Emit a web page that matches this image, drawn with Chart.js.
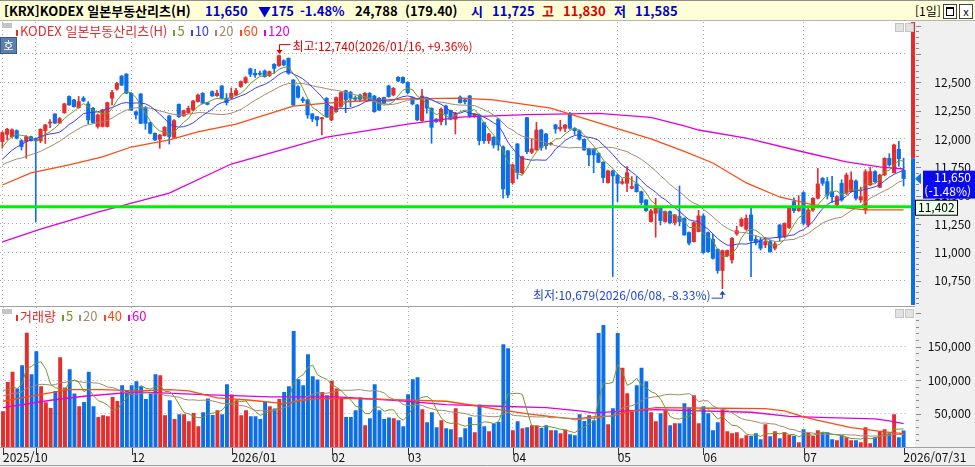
<!DOCTYPE html>
<html lang="ko">
<head>
<meta charset="utf-8">
<title>KODEX 일본부동산리츠(H)</title>
<script src="https://cdn.jsdelivr.net/npm/chart.js@4.4.1/dist/chart.umd.min.js"></script>
<style>
  body { margin: 0; width: 975px; height: 467px; overflow: hidden; background: #fff; position: relative;
         font-family: "Noto Sans CJK KR", "Noto Sans", sans-serif; }
  #title { position: absolute; left: 0; top: 0; width: 975px; height: 21px; box-sizing: border-box;
           background: #ffffd7; border-top: 1px solid #8e8e8e; border-bottom: 1px solid #b4b4b4; }
  #title span { position: absolute; top: 0; font-size: 13px; line-height: 19px; font-weight: bold; white-space: nowrap; }
  canvas { position: absolute; left: 0; }
  .legend { position: absolute; left: 14px; font-size: 13px; line-height: 14px; white-space: nowrap; }
  .legend i { display: inline-block; width: 2px; height: 6px; margin: 0 2px 0 6px; vertical-align: 0px; }
  .gbox { position: absolute; left: 2px; width: 10px; height: 5px; background: #c4c4c4; }
  .ico { position: absolute; width: 7px; height: 7px; border: 1px solid #c4c4c4; background: #e2e2e2; }
  #ho { position: absolute; left: 0; top: 37px; width: 15px; height: 15px; background: #5b7fae; border: 1px solid #3c5a80;
        color: #fff; font-size: 11px; line-height: 15px; text-align: center; }
  .btn { position: absolute; top: 3px; width: 12px; height: 13px; border: 1px solid #444; background: #fff;
         font-size: 11px; line-height: 12px; text-align: center; }
</style>
</head>
<body>
<div id="title"></div>
<canvas id="pc" width="975" height="285" style="top:21px"></canvas>
<canvas id="vc" width="975" height="161" style="top:306px"></canvas>
<div class="gbox" style="top:23px"></div>
<div class="legend" id="plegend" style="top:24px"></div>
<div id="ho">호</div>
<div class="gbox" style="top:309px"></div>
<div class="legend" id="vlegend" style="top:309px"></div>
<div class="ico" style="left:895px;top:23px"></div>
<div class="ico" style="left:905px;top:23px"></div>
<div class="ico" style="left:895px;top:309px"></div>
<div class="ico" style="left:905px;top:309px"></div>
<script>
// daily candles, 2025/10 .. 2026/07/31
const opens = [
  11977,12041,12020,12074,11985,11977,12020,12003,11983,12074,
  12140,12220,12140,12232,12375,12345,12277,12360,12310,12270,
  12110,12110,12110,12360,12440,12555,12573,12403,12240,12397,
  12280,12144,12050,11997,12030,12203,12015,12305,12203,12232,
  12256,12330,12403,12320,12418,12382,12468,12360,12360,12388,
  12462,12497,12618,12579,12579,12600,12559,12659,12647,12691,
  12712,12520,12462,12353,12344,12221,12197,12177,12359,12168,
  12241,12285,12426,12412,12359,12388,12350,12403,12379,12359,
  12365,12468,12388,12544,12544,12500,12365,12300,12162,12359,
  12271,12174,12153,12291,12250,12174,12370,12345,12380,12197,
  12212,12144,11985,12015,12176,11932,11894,11615,11956,11703,
  12188,11882,11903,12079,12044,11953,12123,12088,12094,12226,
  12094,12073,11997,11912,11912,11874,11794,11615,11718,11682,
  11609,11609,11565,11603,11535,11462,11271,11344,11397,11271,
  11359,11262,11315,11300,11174,11094,11183,11321,11174,11115,
  11027,10839,10968,10933,11162,11233,11203,11330,11115,11109,
  11065,11094,11036,11241,11138,11218,11447,11368,11527,11241,
  11374,11477,11653,11624,11535,11418,11609,11521,11535,11629,
  11462,11374,11594,11712,11574,11682,11829,11703,11909,11725
];
const highs = [
  12065,12094,12090,12080,11995,12030,12025,12010,12090,12130,
  12170,12225,12190,12315,12380,12350,12375,12375,12330,12280,
  12220,12262,12325,12430,12500,12560,12575,12410,12245,12400,
  12285,12150,12055,12040,12110,12210,12170,12310,12255,12290,
  12340,12395,12410,12325,12425,12430,12470,12400,12450,12447,
  12512,12550,12625,12615,12600,12610,12600,12665,12740,12700,
  12715,12525,12470,12370,12350,12225,12200,12190,12365,12290,
  12370,12415,12430,12420,12380,12395,12410,12410,12385,12365,
  12370,12475,12455,12550,12548,12505,12370,12305,12438,12365,
  12275,12180,12275,12300,12255,12235,12380,12360,12385,12225,
  12220,12150,12050,12020,12180,11940,11900,11780,11960,11850,
  12190,12000,12147,12085,12050,11970,12130,12165,12130,12235,
  12100,12080,12000,11920,11915,11880,11800,11725,11725,11690,
  11650,11756,11668,11668,11540,11465,11380,11477,11400,11365,
  11365,11335,11585,11305,11180,11270,11370,11340,11180,11160,
  11030,11020,11020,11130,11230,11305,11330,11400,11145,11130,
  11130,11110,11090,11245,11260,11395,11480,11500,11535,11390,
  11480,11740,11660,11660,11670,11500,11640,11700,11710,11640,
  11575,11730,11750,11720,11690,11835,11870,11955,11980,11830
];
const lows = [
  11918,11991,12010,12000,11903,11830,11980,11270,11968,11960,
  12100,12135,12135,12225,12295,12280,12270,12330,12135,12140,
  12095,12105,12105,12300,12430,12470,12400,12250,12175,12135,
  12085,12045,11985,11918,12025,11955,12010,12190,12200,12225,
  12250,12325,12310,12300,12375,12375,12355,12300,12355,12380,
  12455,12490,12550,12544,12560,12545,12550,12579,12640,12645,
  12570,12295,12360,12320,12182,12153,12115,12035,12190,12160,
  12235,12280,12232,12285,12330,12330,12340,12335,12235,12250,
  12310,12368,12380,12505,12490,12400,12300,12162,12155,12227,
  11962,12145,12124,12124,12168,12044,12315,12310,12190,12190,
  11947,11960,11960,11920,11900,11477,11483,11600,11647,11690,
  11870,11870,11900,11900,11910,11945,12050,12070,12065,12085,
  12040,11990,11900,11765,11703,11790,11615,11610,10786,11447,
  11600,11535,11560,11530,11420,11360,11265,11133,11241,11265,
  11250,11241,11233,11150,11065,11090,11180,10990,11000,10940,
  10815,10679,10960,10903,11150,11225,11195,10786,11065,11020,
  11040,11000,11020,11100,11130,11210,11350,11360,11240,11225,
  11360,11470,11590,11470,11440,11400,11450,11510,11530,11460,
  11440,11340,11590,11615,11570,11675,11760,11700,11760,11585
];
const closes = [
  12056,12085,12080,12006,11933,12020,11985,11983,12085,12124,
  12145,12140,12180,12310,12300,12285,12330,12335,12168,12145,
  12212,12256,12320,12410,12490,12475,12403,12256,12212,12138,
  12138,12050,11991,12035,12103,12021,12162,12197,12250,12270,
  12335,12388,12315,12305,12380,12403,12360,12320,12403,12426,
  12506,12541,12571,12565,12571,12550,12594,12623,12735,12653,
  12579,12300,12368,12338,12212,12177,12168,12188,12197,12285,
  12365,12409,12344,12359,12350,12350,12403,12344,12241,12256,
  12315,12374,12447,12512,12497,12409,12309,12168,12379,12271,
  12103,12153,12262,12221,12174,12227,12320,12330,12197,12220,
  11985,11985,12044,11947,11947,11559,11506,11771,11703,11844,
  11888,11912,12079,11924,11941,11962,12088,12103,12123,12094,
  12073,11997,11903,11859,11859,11794,11659,11718,11674,11609,
  11623,11703,11580,11535,11438,11368,11365,11403,11280,11359,
  11262,11330,11271,11153,11080,11262,11321,10997,11006,10947,
  10839,11015,11015,11124,11191,11291,11300,11103,11085,11036,
  11094,11006,11074,11133,11256,11388,11368,11388,11256,11374,
  11477,11603,11609,11506,11491,11491,11462,11682,11638,11477,
  11491,11712,11712,11624,11682,11829,11771,11947,11825,11650
];
const volumes = [
  53500,97500,112500,87500,122500,171000,109000,143500,91000,67000,
  58500,84000,134500,89000,116500,80000,61000,67500,112500,61000,
  45000,47500,46000,75000,69000,92500,85000,92500,98500,91000,
  72000,80000,109000,107500,47500,70000,42000,49000,49000,38500,
  51000,31000,52000,72500,48000,55000,49000,94000,78500,70000,
  47500,55000,46000,46000,42000,67500,61000,57500,72000,82500,
  91000,173500,101500,92500,139000,106000,101000,82500,77500,99000,
  87500,74000,45000,45000,55000,74000,32500,43000,94000,55000,
  42000,44000,43000,40000,31000,79000,101500,104500,56500,37000,
  52000,29500,40000,28000,26500,58000,14500,28000,44500,22000,
  63500,31000,23500,35000,37500,154000,148000,25000,38500,28000,
  29500,32500,32000,28500,32500,25000,25000,20500,26000,19000,
  17500,49000,39000,47500,40000,170500,182500,34000,58000,170500,
  118500,80500,52500,92500,118500,98500,52000,38500,50500,55000,
  32500,35500,35500,65500,59000,77500,35500,61000,50500,25000,
  37000,56000,23500,20500,22000,13000,17500,16500,20500,11500,
  34000,16000,23500,13000,22000,18000,17000,7000,26500,21500,
  16500,25000,22000,22000,11500,10000,17500,14500,10000,10000,
  7000,29500,5500,14500,23500,26500,20500,49000,14500,24788
];
// closes / volumes just before the window, so the short averages start at the left edge
const priorCloses = [11690,11740,11700,11760,11720,11680,11750,11730,11700,11740,
                     11680,11700,11720,11715,11760,11820,11880,11915,11964];
const priorVolumes = [70000,65000,82000,78000,60000,75000,90000,68000,72000,80000,
                      66000,77000,85000,70000,67000,95000,88000,102000,86500];

// long averages at these bars
const ma60At  = [0,6,14,21,27,35,41,49,61,68,75,85,96,103,115,125,136,143,149,156,163,170,175,181,189];
const ma60Val = [11594,11700,11771,11841,11929,11991,12062,12130,12290,12317,12335,12353,12361,12344,
                 12273,12141,12000,11890,11788,11612,11488,11418,11400,11374,11374];
const ma120At  = [0,8,20,35,48,68,85,96,110,125,136,143,146,156,168,177,184,189];
const ma120Val = [11091,11205,11355,11523,11779,12017,12130,12193,12215,12225,12190,12115,12079,12008,
                  11885,11797,11753,11735];
const vma40At  = [0,7,14,21,28,35,39,45,52,59,63,66,73,82,93,100,104,111,117,120,124,128,131,137,150,
                  160,164,168,171,178,185,189];
const vma40Val = [68500,77500,86000,86000,84000,86000,84000,73500,70000,65000,70000,72500,72500,71000,
                  68500,61000,56000,49000,44000,42000,45000,46500,52500,59000,58000,57500,54000,45000,
                  40000,29000,22500,20000];
const vma60At  = [0,10,17,28,42,56,70,82,93,104,114,121,124,131,137,157,165,173,183,186,189];
const vma60Val = [59000,70000,76000,82500,78500,75000,75000,70000,63500,61000,59000,54000,51000,54000,
                  56000,52000,46000,44000,42000,39000,35000];

const monthAt   = [0, 7, 27, 48, 69, 85, 107, 129, 147, 168];
const monthText = ['2025/10', '', '12', '2026/01', '02', '03', '04', '05', '06', '07'];
const lastDate = '2026/07/31';
const highDate = '2026/01/16';
const lowDate = '2026/06/08';
const refLevel = 11402;
const tradeValue = '179.40';
const stockName = '[KRX]KODEX 일본부동산리츠(H)';

const priceGrid = [10750, 11000, 11250, 11500, 11750, 12000, 12250, 12500, 12750];
const priceLabelMax = 12500;
const volGrid = [50000, 100000, 150000];

const N = closes.length;
const RED = '#e42d2d', BLUE = '#0d6fe8';
const UPTXT = '#e00000', DNTXT = '#0000d0';
const GRID = '#a9a9a9';
const FONT = '"Noto Sans CJK KR", "Noto Sans", sans-serif';
const AXIS_W = 69;

const fmt = v => Math.round(v).toLocaleString('en-US');
const labels = new Array(N).fill('');
monthAt.forEach((m, k) => { labels[m] = monthText[k]; });
labels[N - 1] = lastDate;
const monthSet = new Set(monthAt);
const candleColor = closes.map((c, i) => (c >= opens[i] ? RED : BLUE));

function sma(vals, prior, n) {
  const all = prior.concat(vals);
  return vals.map((_, i) => {
    const end = prior.length + i, start = end - n + 1;
    if (start < 0) return null;
    let s = 0;
    for (let k = start; k <= end; k++) s += all[k];
    return s / n;
  });
}
function sparse(at, val) {
  const a = new Array(N).fill(null);
  at.forEach((ix, k) => { a[ix] = val[k]; });
  return a;
}
function maLine(data, color, width) {
  return { type: 'line', data, borderColor: color, borderWidth: width || 1, pointRadius: 0,
           tension: 0, spanGaps: true, order: 0 };
}

// title bar
const prevClose = closes[N - 2], lastClose = closes[N - 1];
const chg = lastClose - prevClose, pct = chg / prevClose * 100;
const tcol = v => (v > prevClose ? UPTXT : v < prevClose ? DNTXT : '#000');
const titleItems = [
  [stockName, 4, '#000'],
  [fmt(lastClose), 205, tcol(lastClose)],
  [(chg < 0 ? '▼' : '▲') + fmt(Math.abs(chg)), 258, tcol(lastClose)],
  [pct.toFixed(2) + '%', 300, tcol(lastClose)],
  [fmt(volumes[N - 1]), 355, '#000'],
  ['(' + tradeValue + ')', 405, '#000'],
  ['시', 471, tcol(opens[N - 1])], [fmt(opens[N - 1]), 492, tcol(opens[N - 1])],
  ['고', 542, tcol(highs[N - 1])], [fmt(highs[N - 1]), 563, tcol(highs[N - 1])],
  ['저', 614, tcol(lows[N - 1])], [fmt(lows[N - 1]), 635, tcol(lows[N - 1])]
];
const title = document.getElementById('title');
titleItems.forEach(([t, left, color]) => {
  const s = document.createElement('span');
  s.textContent = t; s.style.left = left + 'px'; s.style.color = color;
  title.appendChild(s);
});
title.insertAdjacentHTML('beforeend',
  '<span style="left:915px;font-weight:normal;font-size:12px">[1일]</span>' +
  '<div class="btn" style="left:943px"><div style="margin:2px 2px;height:6px;border:1px solid #000;border-top-width:2px"></div></div>' +
  '<div class="btn" style="left:959px">x</div>');

// legends
const pLegend = [['KODEX 일본부동산리츠(H)', RED], ['5', '#74982a'], ['10', '#3c3cf5'], ['20', '#a28a6c'],
                 ['60', '#ff4a10'], ['120', '#df00df']];
const vLegend = [['거래량', RED], ['5', '#74982a'], ['20', '#a28a6c'], ['40', '#ff4a10'], ['60', '#df00df']];
function buildLegend(id, items) {
  document.getElementById(id).innerHTML = items.map(([t, c], k) =>
    '<i style="background:' + c + (k === 0 ? ';margin-left:2px' : '') + '"></i><span style="color:' + c + '">' + t + '</span>'
  ).join('');
}
buildLegend('plegend', pLegend);
buildLegend('vlegend', vLegend);

Chart.defaults.font.family = FONT;
Chart.defaults.font.size = 12;
Chart.defaults.animation = false;

const pricePlugin = {
  id: 'priceDeco',
  beforeDraw(chart) {
    const { ctx, chartArea: a, width, height } = chart;
    ctx.save();
    ctx.fillStyle = '#f0f0f0';
    ctx.fillRect(a.right + 9, 0, width - a.right - 9, height);
    ctx.restore();
  },
  afterDatasetsDraw(chart) {
    const { ctx, chartArea: a, scales: { y } } = chart;
    const yy = y.getPixelForValue(refLevel);
    ctx.save();
    ctx.strokeStyle = '#00f000';
    ctx.lineWidth = 3;
    ctx.beginPath(); ctx.moveTo(a.left, yy); ctx.lineTo(a.right + 8, yy); ctx.stroke();
    ctx.restore();
  },
  afterDraw(chart) {
    const { ctx, chartArea: a, width, scales: { x, y } } = chart;
    const ax = a.right + 9;
    ctx.save();
    // day range bar
    const yHigh = y.getPixelForValue(highs[N - 1]);
    ctx.fillStyle = RED; ctx.fillRect(a.right + 5, a.top, 4, yHigh - a.top);
    ctx.fillStyle = BLUE; ctx.fillRect(a.right + 5, yHigh, 4, a.bottom - yHigh);
    // axis ticks
    ctx.strokeStyle = '#8c8c8c'; ctx.lineWidth = 1;
    ctx.beginPath();
    for (let v = Math.ceil(y.min / 50) * 50; v <= y.max; v += 50) {
      const p = Math.round(y.getPixelForValue(v)) + 0.5;
      ctx.moveTo(ax + 1, p); ctx.lineTo(ax + (v % 250 === 0 ? 6 : 4), p);
    }
    ctx.stroke();
    // axis labels
    ctx.font = '12px ' + FONT; ctx.fillStyle = '#111'; ctx.textAlign = 'right'; ctx.textBaseline = 'middle';
    priceGrid.filter(v => v <= priceLabelMax).forEach(v => ctx.fillText(fmt(v), width - 4, y.getPixelForValue(v)));
    // reference level box
    const yr = y.getPixelForValue(refLevel);
    ctx.fillStyle = '#ecffec'; ctx.fillRect(ax + 0.5, yr - 6.5, 42, 15);
    ctx.strokeStyle = '#000'; ctx.strokeRect(ax + 0.5, yr - 6.5, 42, 15);
    ctx.fillStyle = '#000'; ctx.textAlign = 'left';
    ctx.fillText(fmt(refLevel), ax + 3, yr + 1);
    // current price box
    const yc = y.getPixelForValue(lastClose);
    ctx.fillStyle = BLUE;
    ctx.beginPath(); ctx.moveTo(ax, yc); ctx.lineTo(ax + 6, yc - 5.5); ctx.lineTo(ax + 6, yc + 5.5); ctx.closePath(); ctx.fill();
    ctx.fillStyle = '#0a0aee'; ctx.fillRect(ax + 8, yc - 8, width - ax - 8, 28);
    ctx.fillStyle = '#fff'; ctx.textAlign = 'right';
    ctx.fillText(fmt(lastClose), width - 4, yc - 1);
    ctx.fillText('(' + pct.toFixed(2) + '%)', width - 4, yc + 13);
    // highest / lowest markers
    const hiVal = Math.max(...highs), loVal = Math.min(...lows);
    const hi = highs.indexOf(hiVal), lo = lows.indexOf(loVal);
    const xh = Math.round(x.getPixelForValue(hi)) + 0.5, yh = y.getPixelForValue(hiVal);
    ctx.strokeStyle = UPTXT; ctx.fillStyle = UPTXT; ctx.lineWidth = 1;
    ctx.beginPath(); ctx.moveTo(xh + 11, yh - 10.5); ctx.lineTo(xh, yh - 10.5); ctx.lineTo(xh, yh - 4); ctx.stroke();
    ctx.beginPath(); ctx.moveTo(xh - 3, yh - 5); ctx.lineTo(xh + 3, yh - 5); ctx.lineTo(xh, yh - 1); ctx.closePath(); ctx.fill();
    ctx.textAlign = 'left';
    ctx.fillText('최고:' + fmt(hiVal) + '(' + highDate + ', +' + ((hiVal / lastClose - 1) * 100).toFixed(2) + '%)', xh + 13, yh - 9);
    const xl = Math.round(x.getPixelForValue(lo)) + 0.5, yl = y.getPixelForValue(loVal);
    ctx.strokeStyle = '#1f45d8'; ctx.fillStyle = '#1f45d8';
    ctx.beginPath(); ctx.moveTo(xl - 11, yl + 9.5); ctx.lineTo(xl, yl + 9.5); ctx.lineTo(xl, yl + 4); ctx.stroke();
    ctx.beginPath(); ctx.moveTo(xl - 3, yl + 6); ctx.lineTo(xl + 3, yl + 6); ctx.lineTo(xl, yl + 2); ctx.closePath(); ctx.fill();
    ctx.textAlign = 'right';
    ctx.fillText('최저:' + fmt(loVal) + '(' + lowDate + ', ' + ((loVal / lastClose - 1) * 100).toFixed(2) + '%)', xl - 12, yl + 7);
    ctx.restore();
  }
};

const volPlugin = {
  id: 'volDeco',
  beforeDraw(chart) {
    const { ctx, chartArea: a, width, height } = chart;
    ctx.save();
    ctx.fillStyle = '#f0f0f0';
    ctx.fillRect(a.right + 9, 0, width - a.right - 9, height);
    ctx.fillRect(0, a.bottom, width, height - a.bottom);
    ctx.strokeStyle = '#a0a0a0'; ctx.lineWidth = 1;
    ctx.beginPath();
    ctx.moveTo(0, a.bottom + 0.5); ctx.lineTo(width, a.bottom + 0.5);
    ctx.moveTo(0, 0.5); ctx.lineTo(a.right + 9, 0.5);
    ctx.moveTo(0, height - 1.5); ctx.lineTo(width, height - 1.5);
    ctx.stroke();
    ctx.restore();
  },
  afterDraw(chart) {
    const { ctx, chartArea: a, width, scales: { x, y } } = chart;
    const ax = a.right + 9;
    ctx.save();
    ctx.strokeStyle = '#8c8c8c'; ctx.lineWidth = 1;
    ctx.beginPath();
    for (let v = 10000; v <= y.max; v += 10000) {
      const p = Math.round(y.getPixelForValue(v)) + 0.5;
      ctx.moveTo(ax + 1, p); ctx.lineTo(ax + (v % 50000 === 0 ? 6 : 4), p);
    }
    ctx.stroke();
    ctx.strokeStyle = '#333';
    ctx.beginPath();
    monthAt.concat([N - 1]).forEach(m => {
      const p = Math.round(x.getPixelForValue(m)) + 0.5;
      ctx.moveTo(p, a.bottom + 1); ctx.lineTo(p, a.bottom + 8);
    });
    ctx.stroke();
    ctx.font = '12px ' + FONT; ctx.fillStyle = '#111'; ctx.textAlign = 'right'; ctx.textBaseline = 'middle';
    volGrid.forEach(v => ctx.fillText(fmt(v), width - 4, y.getPixelForValue(v)));
    ctx.restore();
  }
};

const xGridColor = c => (monthSet.has(c.index) ? GRID : 'rgba(0,0,0,0)');

new Chart(document.getElementById('pc'), {
  data: {
    labels,
    datasets: [
      { type: 'bar', data: lows.map((l, i) => [l, highs[i]]), backgroundColor: candleColor,
        barThickness: 1, grouped: false, order: 2 },
      { type: 'bar', data: opens.map((o, i) => [o, closes[i]]), backgroundColor: candleColor,
        barThickness: 3.5, grouped: false, minBarLength: 1, order: 1 },
      maLine(sma(closes, priorCloses, 5), '#74982a'),
      maLine(sma(closes, priorCloses, 10), '#3c3cf5'),
      maLine(sma(closes, priorCloses, 20), '#a28a6c'),
      maLine(sparse(ma60At, ma60Val), '#ff4a10', 1.3),
      maLine(sparse(ma120At, ma120Val), '#df00df', 1.3)
    ]
  },
  options: {
    responsive: false,
    layout: { padding: { top: 1, bottom: 1, left: 0, right: 0 } },
    plugins: { legend: { display: false }, tooltip: { enabled: false } },
    scales: {
      x: {
        type: 'category', offset: true,
        ticks: { display: false, autoSkip: false },
        grid: { offset: false, drawTicks: false, color: xGridColor },
        border: { display: false, dash: [1, 3] },
        afterFit: s => { s.height = 0; }
      },
      y: {
        position: 'right', min: 10535, max: 13032,
        afterBuildTicks: s => { s.ticks = priceGrid.map(v => ({ value: v })); },
        afterFit: s => { s.width = AXIS_W; },
        ticks: { display: false },
        grid: { drawTicks: false, color: GRID },
        border: { display: false, dash: [1, 3] }
      }
    }
  },
  plugins: [pricePlugin]
});

new Chart(document.getElementById('vc'), {
  data: {
    labels,
    datasets: [
      { type: 'bar', data: volumes, backgroundColor: candleColor, categoryPercentage: 1, barPercentage: 0.82, order: 1 },
      maLine(sma(volumes, priorVolumes, 5), '#74982a'),
      maLine(sma(volumes, priorVolumes, 20), '#a28a6c'),
      maLine(sparse(vma40At, vma40Val), '#ff4a10', 1.3),
      maLine(sparse(vma60At, vma60Val), '#df00df', 1.3)
    ]
  },
  options: {
    responsive: false,
    layout: { padding: { top: 1, bottom: 0, left: 0, right: 0 } },
    plugins: { legend: { display: false }, tooltip: { enabled: false } },
    scales: {
      x: {
        type: 'category', offset: true,
        ticks: { autoSkip: false, maxRotation: 0, align: 'start', padding: 3, color: '#111',
                 font: { size: 12 }, callback: (v, i) => labels[i] },
        grid: { offset: false, drawTicks: false, color: xGridColor },
        border: { display: false, dash: [1, 3] },
        afterFit: s => { s.height = 20; }
      },
      y: {
        position: 'right', min: 0, max: 209600,
        afterBuildTicks: s => { s.ticks = volGrid.map(v => ({ value: v })); },
        afterFit: s => { s.width = AXIS_W; },
        ticks: { display: false },
        grid: { drawTicks: false, color: GRID },
        border: { display: false, dash: [1, 3] }
      }
    }
  },
  plugins: [volPlugin]
});
</script>
</body>
</html>
